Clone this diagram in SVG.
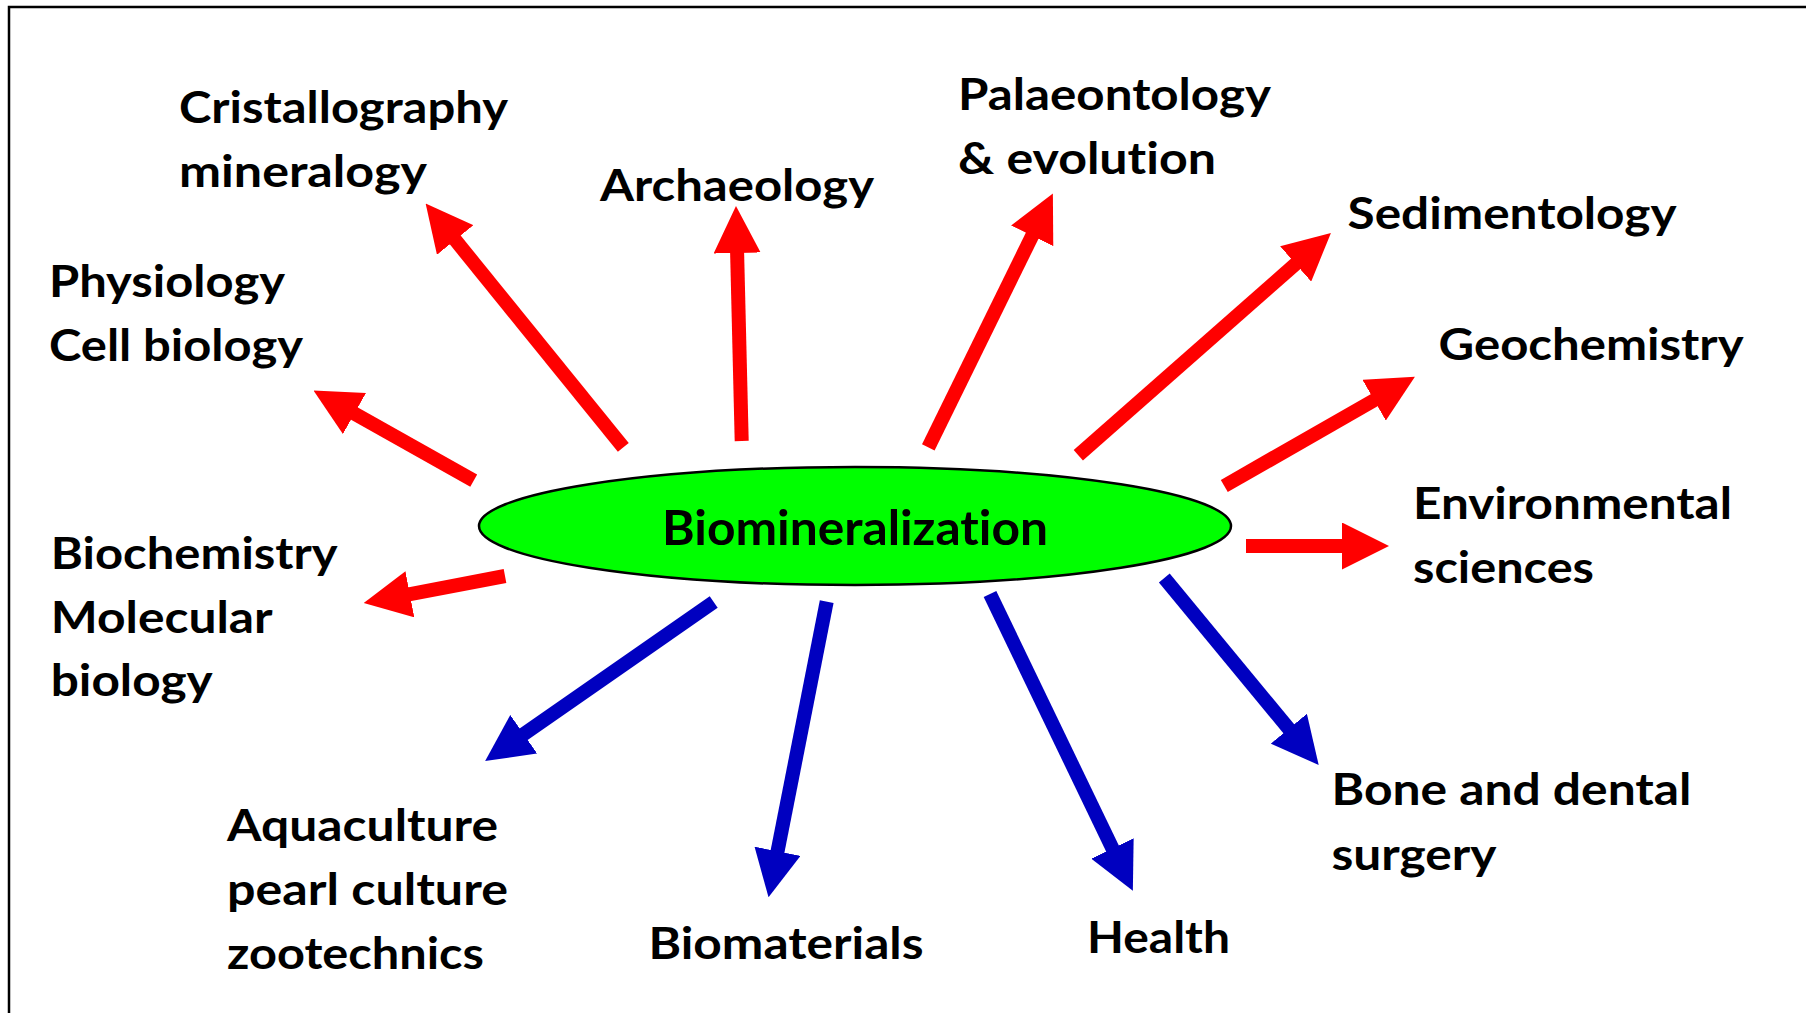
<svg xmlns="http://www.w3.org/2000/svg" width="1806" height="1013" viewBox="0 0 1806 1013">
  <style>
    text { font-family: Lato, "Liberation Sans", sans-serif; font-weight: bold; fill: #000; font-variant-ligatures: none; }
    .lbl { font-size: 44px; }
    .center { font-size: 47px; text-anchor: middle; }
    .red { stroke: #FF0000; stroke-width: 14; fill: none; marker-end: url(#headRed); }
    .blue { stroke: #0000C0; stroke-width: 14; fill: none; marker-end: url(#headBlue); }
  </style>
  <defs>
    <marker id="headRed" markerUnits="userSpaceOnUse" viewBox="0 0 47 47" markerWidth="47" markerHeight="47" refX="1" refY="23.5" orient="auto">
      <path d="M0,0 L47,23.5 L0,47 Z" fill="#FF0000"/>
    </marker>
    <marker id="headBlue" markerUnits="userSpaceOnUse" viewBox="0 0 47 47" markerWidth="47" markerHeight="47" refX="1" refY="23.5" orient="auto">
      <path d="M0,0 L47,23.5 L0,47 Z" fill="#0000C0"/>
    </marker>
  </defs>
  <rect width="1806" height="1013" fill="#fff"/>
  <path d="M9,1013 V7 H1806" fill="none" stroke="#000" stroke-width="2.5"/>

  <g id="connectors">
    <line class="red" x1="623.3" y1="447.3" x2="454.6" y2="239.2"/>
    <line class="red" x1="473.7" y1="480.7" x2="353.6" y2="413.1"/>
    <line class="red" x1="741.7" y1="441" x2="737.1" y2="252"/>
    <line class="red" x1="928.3" y1="447.3" x2="1032.6" y2="234.9"/>
    <line class="red" x1="1078.3" y1="455.3" x2="1296.4" y2="263.3"/>
    <line class="red" x1="1224.3" y1="486" x2="1375" y2="399.7"/>
    <line class="red" x1="1246" y1="546" x2="1343" y2="546"/>
    <line class="red" x1="505" y1="576" x2="408.9" y2="594.4"/>
    <line class="blue" x1="713.7" y1="602" x2="522.9" y2="734.8"/>
    <line class="blue" x1="826.7" y1="601.7" x2="777.4" y2="852.2"/>
    <line class="blue" x1="990" y1="594" x2="1112.9" y2="849.4"/>
    <line class="blue" x1="1164.3" y1="578" x2="1289.4" y2="729.5"/>
  </g>

  <g id="biomineralization">
    <ellipse cx="855" cy="526" rx="376" ry="59" fill="#00FF00" stroke="#000" stroke-width="2.5"/>
    <text class="center" x="855" y="545" textLength="386" lengthAdjust="spacingAndGlyphs">Biomineralization</text>
  </g>
  <g id="cristallography">
    <text class="lbl" x="179" y="123.3" textLength="329" lengthAdjust="spacingAndGlyphs">Cristallography</text>
    <text class="lbl" x="179" y="186.7" textLength="248" lengthAdjust="spacingAndGlyphs">mineralogy</text>
  </g>
  <g id="archaeology">
    <text class="lbl" x="600" y="200.5" textLength="274" lengthAdjust="spacingAndGlyphs">Archaeology</text>
  </g>
  <g id="palaeontology">
    <text class="lbl" x="958" y="110" textLength="313" lengthAdjust="spacingAndGlyphs">Palaeontology</text>
    <text class="lbl" x="958" y="173.5" textLength="258" lengthAdjust="spacingAndGlyphs">&amp; evolution</text>
  </g>
  <g id="sedimentology">
    <text class="lbl" x="1347.6" y="229" textLength="329" lengthAdjust="spacingAndGlyphs">Sedimentology</text>
  </g>
  <g id="physiology">
    <text class="lbl" x="49" y="297" textLength="236" lengthAdjust="spacingAndGlyphs">Physiology</text>
    <text class="lbl" x="49" y="360.5" textLength="254" lengthAdjust="spacingAndGlyphs">Cell biology</text>
  </g>
  <g id="geochemistry">
    <text class="lbl" x="1438.6" y="360" textLength="305" lengthAdjust="spacingAndGlyphs">Geochemistry</text>
  </g>
  <g id="environmental">
    <text class="lbl" x="1413" y="519" textLength="319" lengthAdjust="spacingAndGlyphs">Environmental</text>
    <text class="lbl" x="1413" y="582.5" textLength="181" lengthAdjust="spacingAndGlyphs">sciences</text>
  </g>
  <g id="biochemistry">
    <text class="lbl" x="50.7" y="568.5" textLength="287" lengthAdjust="spacingAndGlyphs">Biochemistry</text>
    <text class="lbl" x="50.7" y="632.5" textLength="222" lengthAdjust="spacingAndGlyphs">Molecular</text>
    <text class="lbl" x="50.7" y="696" textLength="162" lengthAdjust="spacingAndGlyphs">biology</text>
  </g>
  <g id="aquaculture">
    <text class="lbl" x="227" y="841" textLength="271" lengthAdjust="spacingAndGlyphs">Aquaculture</text>
    <text class="lbl" x="227" y="905" textLength="281" lengthAdjust="spacingAndGlyphs">pearl culture</text>
    <text class="lbl" x="227" y="969" textLength="257" lengthAdjust="spacingAndGlyphs">zootechnics</text>
  </g>
  <g id="biomaterials">
    <text class="lbl" x="648.5" y="958.5" textLength="275" lengthAdjust="spacingAndGlyphs">Biomaterials</text>
  </g>
  <g id="health">
    <text class="lbl" x="1087" y="952.5" textLength="143" lengthAdjust="spacingAndGlyphs">Health</text>
  </g>
  <g id="bone">
    <text class="lbl" x="1331.5" y="805" textLength="360" lengthAdjust="spacingAndGlyphs">Bone and dental</text>
    <text class="lbl" x="1331.5" y="869.5" textLength="165" lengthAdjust="spacingAndGlyphs">surgery</text>
  </g>
</svg>
